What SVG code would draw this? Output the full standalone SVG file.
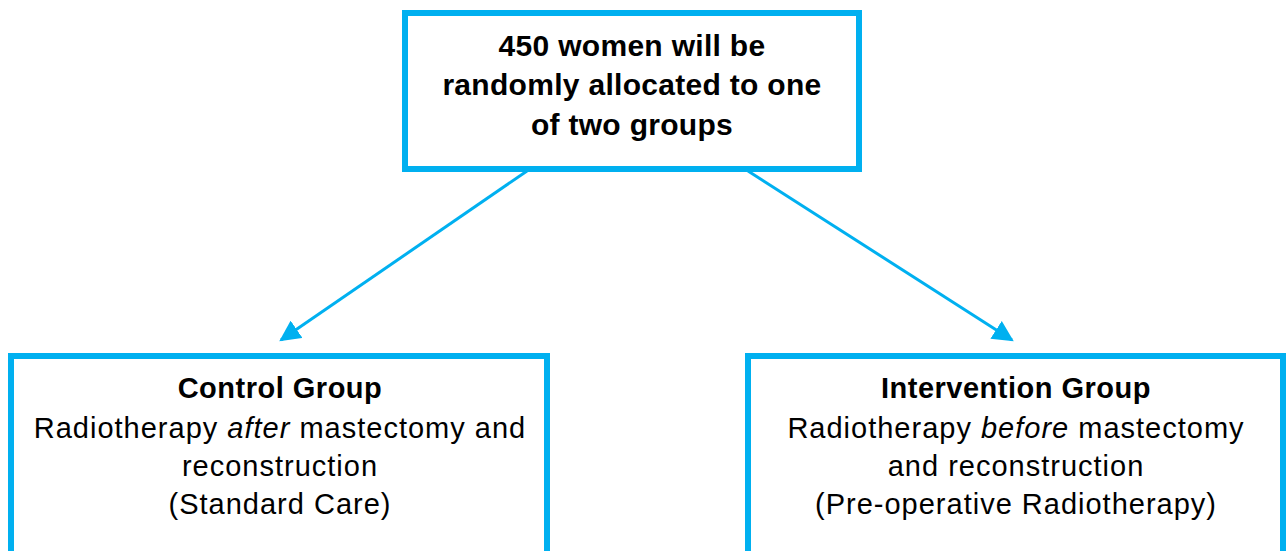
<svg xmlns="http://www.w3.org/2000/svg" width="1287" height="551" viewBox="0 0 1287 551">
<style>
.box{fill:#fff;stroke:#00B0F0;stroke-width:6}
.t{font-family:"Liberation Sans",Arial,sans-serif;fill:#000;text-anchor:middle}
.b{font-weight:bold;font-size:30px;letter-spacing:0.3px}
.h{font-weight:bold;font-size:29px;letter-spacing:0.5px}
.r{font-size:29px;letter-spacing:1px}
.conn{stroke:#00B0F0;stroke-width:3;fill:none}
</style>
<defs>
<marker id="ah" viewBox="0 0 10 10" refX="9" refY="5" markerWidth="7" markerHeight="7" orient="auto" markerUnits="strokeWidth">
<path d="M0,0 L10,5 L0,10 z" fill="#00B0F0"/>
</marker>
</defs>
<g id="connectors">
<line class="conn" x1="527" y1="171" x2="281" y2="340" marker-end="url(#ah)"/>
<line class="conn" x1="748" y1="171" x2="1012" y2="340" marker-end="url(#ah)"/>
</g>
<g id="top">
<rect class="box" x="405" y="13" width="454" height="156"/>
<text class="t b" x="632" y="56">450 women will be</text>
<text class="t b" x="632" y="95">randomly allocated to one</text>
<text class="t b" x="632" y="135">of two groups</text>
</g>
<g id="control">
<rect class="box" x="11" y="356" width="536" height="210"/>
<text class="t h" x="280" y="398">Control Group</text>
<text class="t r" x="280" y="438">Radiotherapy <tspan font-style="italic">after</tspan> mastectomy and</text>
<text class="t r" x="280" y="476">reconstruction</text>
<text class="t r" x="280" y="514">(Standard Care)</text>
</g>
<g id="intervention">
<rect class="box" x="748" y="356" width="535" height="210"/>
<text class="t h" x="1016" y="398">Intervention Group</text>
<text class="t r" x="1016" y="438">Radiotherapy <tspan font-style="italic">before</tspan> mastectomy</text>
<text class="t r" x="1016" y="476">and reconstruction</text>
<text class="t r" x="1016" y="514">(Pre-operative Radiotherapy)</text>
</g>
</svg>
